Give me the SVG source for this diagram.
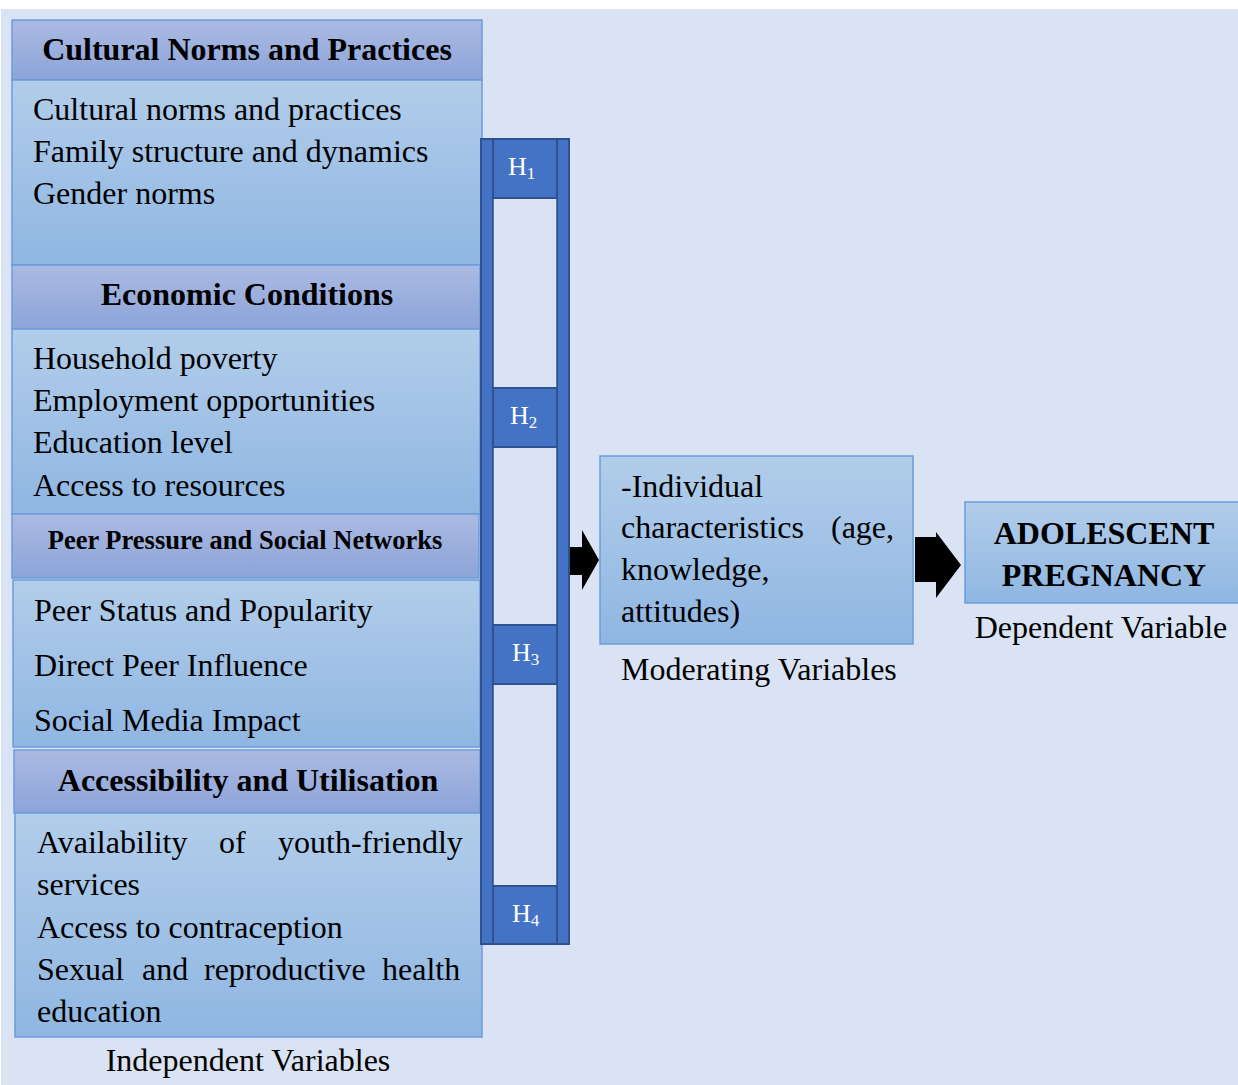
<svg xmlns="http://www.w3.org/2000/svg" width="1238" height="1085" viewBox="0 0 1238 1085">
<defs>
<linearGradient id="hg" x1="0" y1="0" x2="0" y2="1"><stop offset="0" stop-color="#abbae2"/><stop offset="1" stop-color="#8ca4d9"/></linearGradient>
<linearGradient id="bg" x1="0" y1="0" x2="0" y2="1"><stop offset="0" stop-color="#b2cdea"/><stop offset="1" stop-color="#8fb6e2"/></linearGradient>
<style>
.hd{fill:url(#hg);stroke:#6c9cdb;stroke-width:1.5}
.bd{fill:url(#bg);stroke:#6c9cdb;stroke-width:1.5}
.t{font-family:"Liberation Serif","Times New Roman",serif;font-size:32px;fill:#000}
.b{font-family:"Liberation Serif","Times New Roman",serif;font-weight:bold;font-size:32px;fill:#000}
.bar{fill:#4472c4;stroke:#2f528f;stroke-width:2}
.gap{fill:#dae3f3;stroke:#2f528f;stroke-width:1.5}
.h{font-family:"Liberation Serif","Times New Roman",serif;font-size:26px;fill:#fff}
.s{font-size:17px}
.e{text-anchor:end}
</style>
</defs>
<rect x="1" y="9" width="1237" height="1076" fill="#dae3f3"/>

<g id="cultural">
<rect class="hd" x="12" y="20" width="470" height="60"/>
<text class="b" x="247" y="60" text-anchor="middle">Cultural Norms and Practices</text>
<rect class="bd" x="12" y="80" width="470" height="185"/>
<text class="t" x="33" y="120">Cultural norms and practices</text>
<text class="t" x="33" y="162">Family structure and dynamics</text>
<text class="t" x="33" y="204">Gender norms</text>
</g>

<g id="economic">
<rect class="hd" x="12" y="265" width="468" height="64"/>
<text class="b" x="247" y="305" text-anchor="middle">Economic Conditions</text>
<rect class="bd" x="12" y="329" width="468" height="185"/>
<text class="t" x="33" y="369">Household poverty</text>
<text class="t" x="33" y="411">Employment opportunities</text>
<text class="t" x="33" y="453">Education level</text>
<text class="t" x="33" y="496">Access to resources</text>
</g>

<g id="peer">
<rect class="hd" x="12" y="514" width="467" height="64"/>
<text class="b" x="245" y="549" text-anchor="middle" style="font-size:26.5px">Peer Pressure and Social Networks</text>
<rect class="bd" x="13" y="580" width="467" height="167"/>
<text class="t" x="34" y="621">Peer Status and Popularity</text>
<text class="t" x="34" y="676">Direct Peer Influence</text>
<text class="t" x="34" y="731">Social Media Impact</text>
</g>

<g id="access">
<rect class="hd" x="14" y="750" width="466" height="63"/>
<text class="b" x="248" y="791" text-anchor="middle">Accessibility and Utilisation</text>
<rect class="bd" x="15" y="813" width="467" height="224"/>
<text class="t" y="853"><tspan x="37">Availability</tspan><tspan x="219">of</tspan><tspan x="278">youth-friendly</tspan></text>
<text class="t" x="37" y="895">services</text>
<text class="t" x="37" y="938">Access to contraception</text>
<text class="t" y="980"><tspan x="37">Sexual</tspan><tspan x="142">and</tspan><tspan x="204">reproductive</tspan><tspan x="382">health</tspan></text>
<text class="t" x="37" y="1022">education</text>
<text class="t" x="248" y="1071" text-anchor="middle">Independent Variables</text>
</g>

<g id="hypotheses">
<rect class="bar" x="481" y="139" width="12" height="805"/>
<rect class="bar" x="557" y="139" width="12" height="805"/>
<rect class="gap" x="493" y="198" width="64" height="190"/>
<rect class="gap" x="493" y="447" width="64" height="178"/>
<rect class="gap" x="493" y="684" width="64" height="202"/>
<rect class="bar" x="493" y="139" width="64" height="59"/>
<text class="h" x="508" y="175">H<tspan class="s" dy="4">1</tspan></text>
<rect class="bar" x="493" y="388" width="64" height="59"/>
<text class="h" x="510" y="424">H<tspan class="s" dy="4">2</tspan></text>
<rect class="bar" x="493" y="625" width="64" height="59"/>
<text class="h" x="512" y="661">H<tspan class="s" dy="4">3</tspan></text>
<rect class="bar" x="493" y="886" width="64" height="58"/>
<text class="h" x="512" y="922">H<tspan class="s" dy="4">4</tspan></text>
</g>

<g id="moderating">
<rect class="bd" x="600" y="456" width="313" height="188"/>
<text class="t" x="621" y="497">-Individual</text>
<text class="t" y="538"><tspan x="621">characteristics</tspan><tspan x="831">(age,</tspan></text>
<text class="t" x="621" y="580">knowledge,</text>
<text class="t" x="621" y="622">attitudes)</text>
<text class="t" x="621" y="680">Moderating Variables</text>
</g>

<g id="dependent">
<rect class="bd" x="965" y="502" width="275" height="101"/>
<text class="b" x="1104" y="544" text-anchor="middle">ADOLESCENT</text>
<text class="b" x="1104" y="586" text-anchor="middle">PREGNANCY</text>
<text class="t" x="1101" y="638" text-anchor="middle">Dependent Variable</text>
</g>

<g id="connectors">
<polygon points="570,547 582,547 582,530 599,560 582,590 582,575 570,575" fill="#000"/>
<polygon points="915,537 936,537 936,532 961,565 936,598 936,582 915,582" fill="#000"/>
</g>
</svg>
